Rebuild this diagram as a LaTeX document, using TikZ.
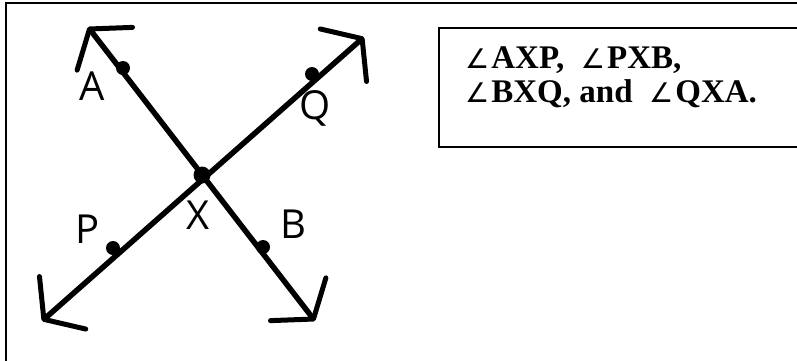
\documentclass[tikz,border=0pt]{standalone}
\usepackage{fontspec}
\setmainfont{Liberation Serif}
\setsansfont{Open Sans}
\newfontfamily\anglefont{DejaVu Sans}
\newcommand{\ang}{{\anglefont\mdseries\fontsize{27}{27}\selectfont ∠}\kern2pt}
\usetikzlibrary{arrows.meta}

\begin{document}
\begin{tikzpicture}[
  x=1pt, y=-1pt,
  frame/.style={draw, line width=2pt},
  barb/.tip={Straight Barb[length=25pt, width=70pt, line width=5pt, round]},
  ray/.style={line width=5.5pt, line cap=round, barb-barb},
  dot/.style={circle, fill, inner sep=0pt, minimum size=14pt},
  lbl/.style={font=\sffamily\fontsize{40}{40}\selectfont, inner sep=0pt}
]
  \useasboundingbox (0,0) rectangle (797,360);
  % page frame, cut by the page on the right and below
  \draw[frame] (6,380) |- (820,3);

  % points on the two lines
  \node[dot, minimum size=17pt] (X) at (202,175) {};
  \node[dot] (A) at (123,68) {};
  \node[dot] (B) at (263,247) {};
  \node[dot] (P) at (113,248) {};
  \node[dot] (Q) at (312,74) {};

  \coordinate (atip) at (88,27);
  \coordinate (btip) at (315,321);
  \coordinate (ptip) at (42,321);
  \coordinate (qtip) at (364,37);

  \draw[ray] (atip) -- (btip);
  \draw[ray] (ptip) -- (qtip);

  \node[lbl] (lblA) at (92,86) {A};
  \node[lbl] (lblQ) at (315,108) {Q};
  \node[lbl] (lblP) at (88,229) {P};
  \node[lbl] (lblX) at (198,215) {X};
  \node[lbl] (lblB) at (293,224) {B};

  % angle list
  \node[frame, anchor=north west, minimum width=420pt, minimum height=119pt] (box) at (438,27) {};
  \node[anchor=base west, align=left, inner sep=0pt,
        font=\bfseries\fontsize{33}{34}\selectfont] (angles) at (465,102)
    {\ang AXP,\ \ \ang PXB,\\ \ang BXQ, and\ \ \ang QXA.};
\end{tikzpicture}
\end{document}
